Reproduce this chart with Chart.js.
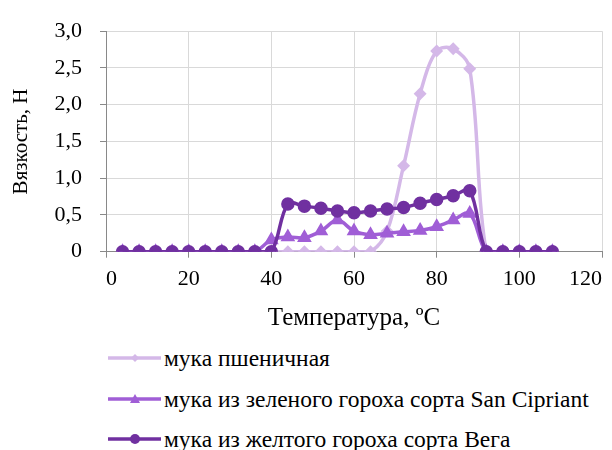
<!DOCTYPE html>
<html>
<head>
<meta charset="utf-8">
<script src="https://cdn.jsdelivr.net/npm/chart.js@4/dist/chart.umd.min.js"></script>
<style>
  html, body { margin:0; padding:0; background:#fff; }
  #wrap { position:relative; width:612px; height:450px; overflow:hidden; background:#fff; }
  #c { position:absolute; left:0; top:0; }
  .leg { position:absolute; left:108px; height:28px; display:flex; align-items:center;
         font-family:'Liberation Serif', serif; font-size:23.5px; color:#000; white-space:nowrap; }
  .leg svg { display:block; margin-right:3px; }
</style>
</head>
<body>
<div id="wrap">
  <canvas id="c" width="612" height="340"></canvas>
  <div id="legend"></div>
</div>
<script>
// ---- data ----
const temperatures = [4, 8, 12, 16, 20, 24, 28, 32, 36, 40, 44, 48, 52, 56, 60, 64, 68, 72, 76, 80, 84, 88, 92, 96, 100, 104, 108];
const wheatFlour   = [0, 0, 0, 0, 0, 0, 0, 0, 0, 0, 0, 0, 0, 0, 0, 0, 0.28, 1.17, 2.15, 2.73, 2.76, 2.49, 0, 0, 0, 0, 0];
const greenPeaFlour  = [0, 0, 0, 0, 0, 0, 0, 0, 0, 0.16, 0.20, 0.19, 0.28, 0.43, 0.28, 0.23, 0.25, 0.27, 0.29, 0.34, 0.43, 0.52, 0, 0, 0, 0, 0];
const yellowPeaFlour = [0, 0, 0, 0, 0, 0, 0, 0, 0, 0, 0.65, 0.62, 0.59, 0.555, 0.53, 0.555, 0.58, 0.60, 0.66, 0.71, 0.76, 0.83, 0, 0, 0, 0, 0];
const seriesNames = ['мука пшеничная', 'мука из зеленого гороха сорта San Cipriant', 'мука из желтого гороха сорта Вега'];
const xTickLabels = ['0', '20', '40', '60', '80', '100', '120'];
const yTickLabels = ['0', '0,5', '1,0', '1,5', '2,0', '2,5', '3,0'];
const xTitle = 'Температура, ºC';
const yTitle = 'Вязкость, Н';

// ---- styles ----
const colors = ['#D4B8E8', '#A05ED6', '#7030A0'];
const pointStyles = ['rectRot', 'triangle', 'circle'];
const pointRadii = [4, 5, 5];
const FAMILY = "'Liberation Serif', serif";
const TICK_FONT = { family: FAMILY, size: 22 };
const XTITLE_FONT = { family: FAMILY, size: 25 };
const YTITLE_FONT = { family: FAMILY, size: 21 };
const AXIS = '#898989';
const GRID = '#D9D9D9';

const allSeries = [wheatFlour, greenPeaFlour, yellowPeaFlour];
const datasets = allSeries.map((vals, i) => ({
  label: seriesNames[i],
  data: temperatures.map((t, k) => ({ x: t, y: vals[k] })),
  borderColor: colors[i],
  backgroundColor: colors[i],
  pointBackgroundColor: colors[i],
  pointBorderColor: colors[i],
  pointStyle: pointStyles[i],
  pointRadius: pointRadii[i],
  borderWidth: 3.5,
  tension: 0.35,
  fill: false,
  order: 3 - i
}));

new Chart(document.getElementById('c'), {
  type: 'line',
  data: { datasets },
  options: {
    responsive: false,
    animation: false,
    layout: { padding: { left: 0, top: 21, right: 10, bottom: 0 } },
    plugins: { legend: { display: false }, tooltip: { enabled: false } },
    scales: {
      x: {
        type: 'linear', min: 0, max: 120,
        ticks: {
          stepSize: 20, align: 'inner', padding: 8, color: '#000', font: TICK_FONT, maxRotation: 0,
          callback: (v) => xTickLabels[Math.round(v / 20)]
        },
        grid: { color: GRID, tickColor: AXIS, tickLength: 6, lineWidth: 1 },
        border: { color: AXIS, width: 1 },
        title: { display: true, text: xTitle, color: '#000', font: XTITLE_FONT, padding: { top: 0, bottom: 7 } },
        afterFit: (s) => { s.height = 88.3; }
      },
      y: {
        min: 0, max: 3,
        ticks: {
          stepSize: 0.5, padding: 18, color: '#000', font: TICK_FONT,
          callback: (v) => yTickLabels[Math.round(v / 0.5)]
        },
        grid: { color: GRID, tickColor: AXIS, tickLength: 6, lineWidth: 1 },
        border: { color: AXIS, width: 1 },
        title: { display: true, text: yTitle, color: '#000', font: YTITLE_FONT, padding: { top: 9, bottom: 0 } },
        afterFit: (s) => { s.width = 106; }
      }
    }
  }
});

// ---- legend (HTML) ----
const legendRowsY = [358, 399, 439];
const legend = document.getElementById('legend');
function markerSvg(i) {
  const c = colors[i];
  let m = '';
  if (i === 0) m = `<polygon points="27,2 31,6 27,10 23,6" fill="${c}"/>`;
  else if (i === 1) m = `<polygon points="27,1 32,10 22,10" fill="${c}"/>`;
  else m = `<circle cx="27" cy="6" r="5" fill="${c}"/>`;
  return `<svg width="53" height="12" viewBox="0 0 53 12"><line x1="0" y1="6" x2="53" y2="6" stroke="${c}" stroke-width="3.5"/>${m}</svg>`;
}
seriesNames.forEach((name, i) => {
  const row = document.createElement('div');
  row.className = 'leg';
  row.style.top = (legendRowsY[i] - 14) + 'px';
  row.innerHTML = markerSvg(i) + '<span></span>';
  row.querySelector('span').textContent = name;
  legend.appendChild(row);
});
</script>
</body>
</html>
